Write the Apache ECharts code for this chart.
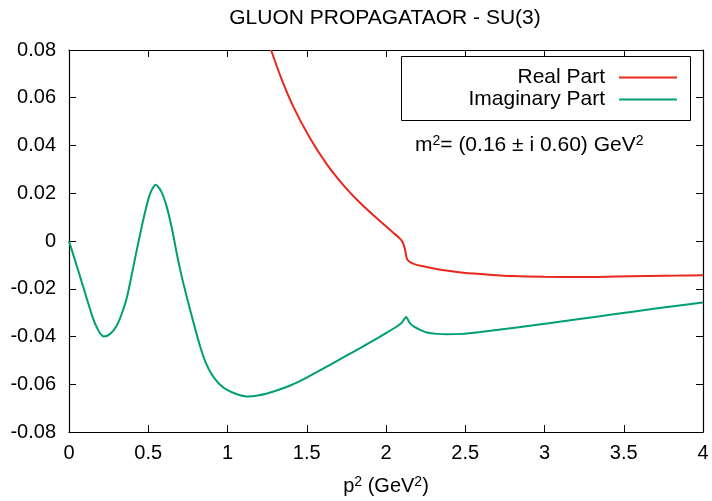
<!DOCTYPE html>
<html>
<head>
<meta charset="utf-8">
<script src="https://cdn.jsdelivr.net/npm/echarts@6/dist/echarts.min.js"></script>
<style>html,body{margin:0;padding:0;background:#fff}#c{width:712px;height:501px}</style>
</head>
<body>
<div id="c"></div>
<script>
// ---- data ----
const titleText = 'GLUON PROPAGATAOR - SU(3)';
const seriesNames = ['Real Part', 'Imaginary Part'];
const xTicks = [0, 0.5, 1, 1.5, 2, 2.5, 3, 3.5, 4];
const yTicks = [-0.08, -0.06, -0.04, -0.02, 0, 0.02, 0.04, 0.06, 0.08];

const realPart = [
  [1.275,0.08],[1.34,0.0680],[1.415,0.0563],[1.521,0.0430],[1.626,0.0322],[1.731,0.0234],
  [1.836,0.0160],[1.942,0.0095],[2.047,0.0034],[2.085,0.0012],[2.105,-0.0005],[2.12,-0.0036],
  [2.131,-0.0072],[2.142,-0.0084],[2.165,-0.0093],[2.194,-0.0100],[2.235,-0.0106],[2.279,-0.0112],
  [2.38,-0.0124],[2.489,-0.0133],[2.65,-0.0141],[2.804,-0.0147],[3.0,-0.0150],[3.225,-0.0151],
  [3.45,-0.0149],[3.646,-0.0147],[3.85,-0.0145],[4.0,-0.0143]
];
const imagPart = [
  [0,0],[0.035,-0.0075],[0.069,-0.0147],[0.10,-0.0215],[0.132,-0.0284],[0.155,-0.0330],[0.18,-0.0368],
  [0.20,-0.0390],[0.22,-0.0400],[0.26,-0.0389],[0.30,-0.0356],[0.33,-0.0310],[0.364,-0.0240],
  [0.40,-0.0128],[0.43,-0.0030],[0.469,0.0090],[0.51,0.0195],[0.547,0.0236],[0.58,0.0210],
  [0.616,0.0145],[0.65,0.0050],[0.679,-0.0049],[0.71,-0.0145],[0.742,-0.0231],[0.784,-0.0338],
  [0.826,-0.0439],[0.86,-0.0505],[0.90,-0.0558],[0.95,-0.0600],[1.0,-0.0625],[1.06,-0.0642],
  [1.12,-0.0651],[1.2,-0.0646],[1.3,-0.0628],[1.4,-0.0604],[1.5,-0.0572],[1.6,-0.0536],[1.7,-0.0499],
  [1.8,-0.0462],[1.9,-0.0425],[2.0,-0.0386],[2.068,-0.0358],[2.1,-0.0342],[2.127,-0.0318],
  [2.135,-0.0326],[2.152,-0.0345],[2.18,-0.0360],[2.215,-0.0372],[2.258,-0.0383],[2.32,-0.0389],
  [2.384,-0.0391],[2.48,-0.0389],[2.594,-0.0381],[2.8,-0.0364],[3.015,-0.0346],[3.22,-0.0327],
  [3.436,-0.0307],[3.7,-0.0283],[4.0,-0.0258]
];
const colors = ['#e8281c', '#009e73'];
const annotation = '(0.16 ± i 0.60) GeV';

// ---- chart ----
const FONT = '"Liberation Sans", Arial, sans-serif';
const chart = echarts.init(document.getElementById('c'), null, {renderer: 'canvas'});
const fmtNum = v => String(parseFloat(Number(v).toFixed(2)));
const axisCommon = {
  axisLine: {show: true, onZero: false, lineStyle: {color: '#000', width: 1.2}},
  axisTick: {show: true, inside: true, length: 7, lineStyle: {color: '#000', width: 1}},
  splitLine: {show: false}
};
const xMin = xTicks[0], xMax = xTicks[xTicks.length - 1];
const yMin = yTicks[0], yMax = yTicks[yTicks.length - 1];
const xInt = xTicks[1] - xTicks[0], yInt = +(yTicks[1] - yTicks[0]).toFixed(4);
const FS = 20;

chart.setOption({
  animation: false,
  title: {
    text: titleText, left: 380, top: 3, textAlign: 'center',
    textStyle: {fontFamily: FONT, fontSize: 21, fontWeight: 'normal', color: '#000'}
  },
  grid: {left: 69, right: 9, top: 50, bottom: 68, containLabel: false},
  xAxis: [
    Object.assign({}, axisCommon, {
      type: 'value', min: xMin, max: xMax, interval: xInt, position: 'bottom',
      axisLabel: {margin: 11, fontFamily: FONT, fontSize: FS, color: '#000', formatter: fmtNum},
      name: '{a|p}{s|2}{a| (GeV}{s|2}{a|)}', nameLocation: 'middle', nameGap: 43,
      nameTextStyle: {
        rich: {
          a: {fontFamily: FONT, fontSize: FS, color: '#000', lineHeight: 21, verticalAlign: 'bottom'},
          s: {fontFamily: FONT, fontSize: 14, color: '#000', lineHeight: 21, verticalAlign: 'top'}
        }
      }
    }),
    Object.assign({}, axisCommon, {
      type: 'value', min: xMin, max: xMax, interval: xInt, position: 'top',
      axisLabel: {show: false}
    })
  ],
  yAxis: [
    Object.assign({}, axisCommon, {
      type: 'value', min: yMin, max: yMax, interval: yInt, position: 'left',
      axisLabel: {margin: 13, fontFamily: FONT, fontSize: FS, color: '#000', formatter: fmtNum}
    }),
    Object.assign({}, axisCommon, {
      type: 'value', min: yMin, max: yMax, interval: yInt, position: 'right',
      axisLabel: {show: false}
    })
  ],
  legend: [
    {
      data: [{name: seriesNames[0], icon: 'rect'}], right: 35, top: 67, padding: 0,
      orient: 'vertical', align: 'right', itemWidth: 58, itemHeight: 2,
      textStyle: {fontFamily: FONT, fontSize: 21, color: '#000', padding: [0, 9, 0, 0]}
    },
    {
      data: [{name: seriesNames[1], icon: 'rect'}], right: 35, top: 89, padding: 0,
      orient: 'vertical', align: 'right', itemWidth: 58, itemHeight: 2,
      textStyle: {fontFamily: FONT, fontSize: 21, color: '#000', padding: [0, 9, 0, 0]}
    }
  ],
  graphic: [
    {
      type: 'rect', shape: {x: 401.5, y: 56.5, width: 289, height: 64},
      style: {fill: 'none', stroke: '#000', lineWidth: 1}, z: 10
    },
    {
      type: 'text', left: 415, top: 134, z: 10,
      style: {
        text: '{a|m}{s|2}{a|= ' + annotation + '}{s|2}',
        rich: {
          a: {fontFamily: FONT, fontSize: 21, fill: '#000', lineHeight: 22, verticalAlign: 'bottom'},
          s: {fontFamily: FONT, fontSize: 14, fill: '#000', lineHeight: 22, verticalAlign: 'top'}
        }
      }
    }
  ],
  series: [
    {
      name: seriesNames[0], type: 'line', data: realPart, xAxisIndex: 0, yAxisIndex: 0,
      showSymbol: false, symbol: 'none', smooth: 0.25, clip: true,
      lineStyle: {color: colors[0], width: 2}, itemStyle: {color: colors[0]}
    },
    {
      name: seriesNames[1], type: 'line', data: imagPart, xAxisIndex: 0, yAxisIndex: 0,
      showSymbol: false, symbol: 'none', smooth: 0.25, clip: true,
      lineStyle: {color: colors[1], width: 2}, itemStyle: {color: colors[1]}
    }
  ]
});
</script>
</body>
</html>
